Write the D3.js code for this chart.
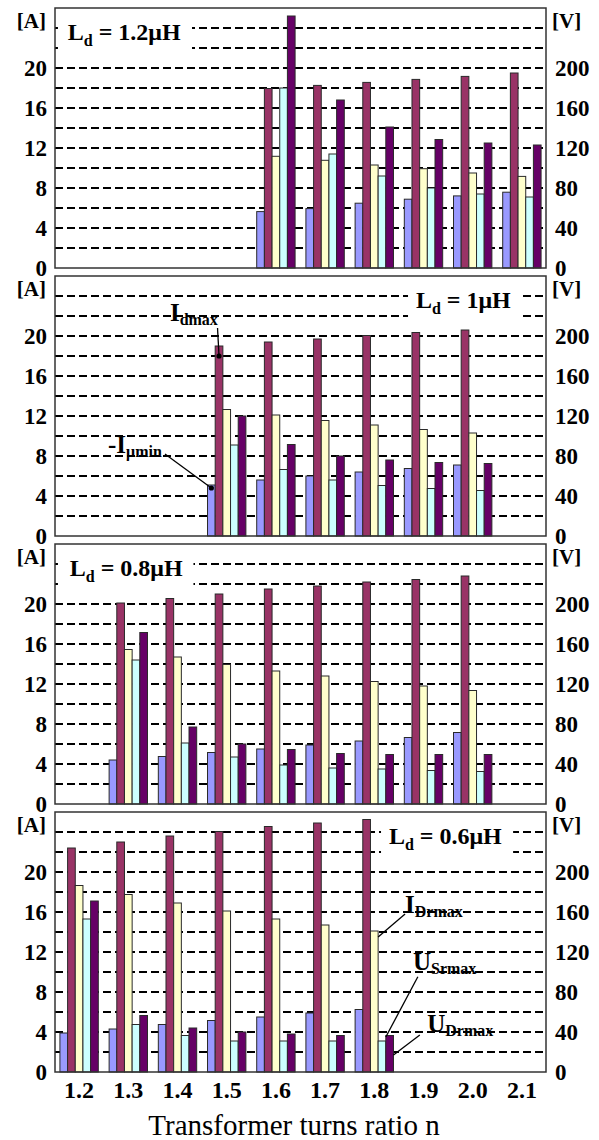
<!DOCTYPE html>
<html><head><meta charset="utf-8">
<script src="https://cdn.jsdelivr.net/npm/d3@7"></script>
<style>body{margin:0;background:#fff}</style>
</head><body>
<svg id="c" width="599" height="1140" xmlns="http://www.w3.org/2000/svg"></svg>
<script>
// ---------------- DATA ----------------
const categories = ["1.2","1.3","1.4","1.5","1.6","1.7","1.8","1.9","2.0","2.1"];
const seriesNames = ["-Iμmin","Idmax","IDrmax","USrmax","UDrmax"];
const seriesUnits = ["A","A","A","V","V"];
const seriesColors = ["#9999FF","#993366","#FFFFCC","#CCFFFF","#660066"];
const ampTicks = [0,4,8,12,16,20];
const voltTicks = [0,40,80,120,160,200];
const gridValues = [2,4,6,8,10,12,14,16,18,20,22,24];
const panelLabels = ["1.2μH","1μH","0.8μH","0.6μH"];
const xTitle = "Transformer turns ratio n";

// Ld = 1.2 µH
const ld12Cats   = ["1.6","1.7","1.8","1.9","2.0","2.1"];
const ld12Iumin  = [5.64, 5.94, 6.48, 6.88, 7.21, 7.58];
const ld12Idmax  = [17.95, 18.26, 18.56, 18.86, 19.16, 19.5];
const ld12IDrmax = [11.17, 10.77, 10.3, 9.93, 9.5, 9.16];
const ld12USrmax = [180, 114, 92, 80, 74, 71];
const ld12UDrmax = [252, 168, 141, 128.5, 125, 123];

// Ld = 1 µH
const ld10Cats   = ["1.5","1.6","1.7","1.8","1.9","2.0"];
const ld10Iumin  = [5.1, 5.6, 6.0, 6.4, 6.75, 7.1];
const ld10Idmax  = [19.0, 19.4, 19.7, 20.05, 20.35, 20.6];
const ld10IDrmax = [12.65, 12.1, 11.55, 11.1, 10.65, 10.3];
const ld10USrmax = [91, 66.5, 56, 50.5, 47.5, 45.5];
const ld10UDrmax = [120, 91.5, 80, 76, 73.5, 72.5];

// Ld = 0.8 µH
const ld08Cats   = ["1.3","1.4","1.5","1.6","1.7","1.8","1.9","2.0"];
const ld08Iumin  = [4.4, 4.75, 5.15, 5.5, 5.9, 6.3, 6.65, 7.15];
const ld08Idmax  = [20.1, 20.55, 21.0, 21.5, 21.8, 22.2, 22.45, 22.8];
const ld08IDrmax = [15.45, 14.7, 13.95, 13.3, 12.8, 12.25, 11.8, 11.35];
const ld08USrmax = [144, 61, 47, 39, 36, 35, 33.5, 32.5];
const ld08UDrmax = [171.5, 77, 60, 54.5, 50.5, 49.5, 49.5, 49.5];

// Ld = 0.6 µH
const ld06Cats   = ["1.2","1.3","1.4","1.5","1.6","1.7","1.8"];
const ld06Iumin  = [3.9, 4.3, 4.75, 5.15, 5.5, 5.9, 6.25];
const ld06Idmax  = [22.4, 23.0, 23.6, 24.05, 24.55, 24.9, 25.25];
const ld06IDrmax = [18.65, 17.75, 16.9, 16.1, 15.3, 14.7, 14.1];
const ld06USrmax = [153, 47.5, 36.5, 31, 31, 31, 31];
const ld06UDrmax = [171, 56.5, 44, 40, 38, 36.5, 36.5];

// annotations (positions in category-index units u and ampere units v)
const ld10Notes = [
  {main:"I", sub:"dmax", u:2.34, v:21.5, from:[3.31,20.8], cat:"1.5", ser:"Idmax", toV:18, side:"c", dot:true},
  {main:"-I", sub:"μmin", u:1.08, v:8.3, from:[2.24,8.2], cat:"1.5", ser:"-Iμmin", toV:4.8, side:"c", dot:true}
];
const ld06Notes = [
  {main:"I", sub:"Drmax", u:7.13, v:15.9, from:[7.13,15.8], cat:"1.8", ser:"IDrmax", toV:13.5, side:"r", dot:false},
  {main:"U", sub:"Srmax", u:7.29, v:10.2, from:[7.39,9.53], cat:"1.8", ser:"USrmax", toV:3.5, side:"r", dot:false},
  {main:"U", sub:"Drmax", u:7.58, v:4.0, from:[7.43,3.7], cat:"1.8", ser:"UDrmax", toV:1.7, side:"r", dot:false}
];
// label box extents (u range) and text start per panel
const labelBoxU = [[0.06,2.79],[7.19,9.47],[0.06,2.82],[6.64,9.33]];
const labelTextU = [0.26,7.35,0.30,6.80];

// ---------------- BUILD ----------------
const panels = [
  {cats:ld12Cats, vals:[ld12Iumin,ld12Idmax,ld12IDrmax,ld12USrmax,ld12UDrmax], notes:[]},
  {cats:ld10Cats, vals:[ld10Iumin,ld10Idmax,ld10IDrmax,ld10USrmax,ld10UDrmax], notes:ld10Notes},
  {cats:ld08Cats, vals:[ld08Iumin,ld08Idmax,ld08IDrmax,ld08USrmax,ld08UDrmax], notes:[]},
  {cats:ld06Cats, vals:[ld06Iumin,ld06Idmax,ld06IDrmax,ld06USrmax,ld06UDrmax], notes:ld06Notes}
];

const FONT = "'Liberation Serif','Times New Roman',Times,serif";
const svg = d3.select("#c");
const left = 55, right = 546, ph = 260;
const panelTops = [8, 276, 544, 812];

const x0 = d3.scaleBand().domain(categories).range([left, right]).paddingInner(0.22).paddingOuter(0.1);
const x1 = d3.scaleBand().domain(seriesNames).range([0, x0.bandwidth()]);
const xu = d3.scaleLinear().domain([0, categories.length]).range([left, right]);

panels.forEach((p, pi) => {
  const top = panelTops[pi], bottom = top + ph;
  const yA = d3.scaleLinear().domain([0, 26]).range([bottom, top]);
  const yV = d3.scaleLinear().domain([0, 260]).range([bottom, top]);
  const g = svg.append("g");

  // gridlines
  g.selectAll("line.grid").data(gridValues).join("line")
    .attr("x1", left).attr("x2", right)
    .attr("y1", d => yA(d)).attr("y2", d => yA(d))
    .attr("stroke", "#000").attr("stroke-width", 2).attr("stroke-dasharray", "8,4");

  // label box
  const bx = labelBoxU[pi];
  g.append("rect").attr("x", xu(bx[0])).attr("width", xu(bx[1]) - xu(bx[0]))
    .attr("y", yA(25.3)).attr("height", yA(21.2) - yA(25.3)).attr("fill", "#fff");
  const lt = g.append("text").attr("x", xu(labelTextU[pi])).attr("y", yA(22.8))
    .attr("font-family", FONT).attr("font-weight", "bold").attr("font-size", 24);
  lt.append("tspan").text("L");
  lt.append("tspan").attr("font-size", 16).attr("dy", 6).text("d");
  lt.append("tspan").attr("dy", -6).text(" = " + panelLabels[pi]);

  // bars
  const rows = [];
  p.cats.forEach((c, ci) => {
    seriesNames.forEach((s, si) => {
      rows.push({cat: c, ser: s, si: si, val: p.vals[si][ci]});
    });
  });
  const ys = d => seriesUnits[d.si] === "V" ? yV : yA;
  g.selectAll("rect.bar").data(rows).join("rect")
    .attr("x", d => x0(d.cat) + x1(d.ser))
    .attr("width", x1.bandwidth())
    .attr("y", d => ys(d)(d.val))
    .attr("height", d => bottom - ys(d)(d.val))
    .attr("fill", d => seriesColors[d.si])
    .attr("stroke", "#2a2a2a").attr("stroke-width", 1);

  // border
  g.append("rect").attr("x", left).attr("y", top).attr("width", right - left).attr("height", ph)
    .attr("fill", "none").attr("stroke", "#333").attr("stroke-width", 1.5);

  // axes
  const styleAxis = (s, size) => {
    s.select(".domain").remove();
    s.attr("font-family", FONT).attr("font-size", size).attr("font-weight", "bold");
    s.selectAll("text").attr("fill", "#000");
  };
  g.append("g").attr("transform", `translate(${left},0)`)
    .call(d3.axisLeft(yA).tickValues(ampTicks).tickSize(0).tickPadding(8).tickFormat(d3.format("d")))
    .call(styleAxis, 23);
  g.append("g").attr("transform", `translate(${right},0)`)
    .call(d3.axisRight(yV).tickValues(voltTicks).tickSize(0).tickPadding(9).tickFormat(d3.format("d")))
    .call(styleAxis, 23);

  // unit labels
  g.append("text").attr("x", 46).attr("y", top + 20).attr("text-anchor", "end")
    .attr("font-family", FONT).attr("font-size", 21).attr("font-weight", "bold").text("[A]");
  g.append("text").attr("x", 552).attr("y", top + 20)
    .attr("font-family", FONT).attr("font-size", 21).attr("font-weight", "bold").text("[V]");

  // annotations
  p.notes.forEach(n => {
    const bxl = x0(n.cat) + x1(n.ser);
    const tx = n.side === "c" ? bxl + x1.bandwidth() / 2 : bxl + x1.bandwidth();
    g.append("line").attr("x1", xu(n.from[0])).attr("y1", yA(n.from[1]))
      .attr("x2", tx).attr("y2", yA(n.toV)).attr("stroke", "#000").attr("stroke-width", 1.3);
    if (n.dot) g.append("circle").attr("cx", tx).attr("cy", yA(n.toV)).attr("r", 2.6).attr("fill", "#000");
    const t = g.append("text").attr("x", xu(n.u)).attr("y", yA(n.v))
      .attr("font-family", FONT).attr("font-weight", "bold").attr("font-size", 25);
    t.append("tspan").text(n.main);
    t.append("tspan").attr("font-size", 16).attr("dy", 4).text(n.sub);
  });

  // x axis on the last panel
  if (pi === panels.length - 1) {
    g.append("g").attr("transform", `translate(0,${bottom})`)
      .call(d3.axisBottom(x0).tickSize(0).tickPadding(9))
      .call(styleAxis, 24);
    svg.append("text").attr("x", 294).attr("y", 1135).attr("text-anchor", "middle")
      .attr("font-family", FONT).attr("font-size", 29).text(xTitle);
  }
});
</script>
</body></html>
